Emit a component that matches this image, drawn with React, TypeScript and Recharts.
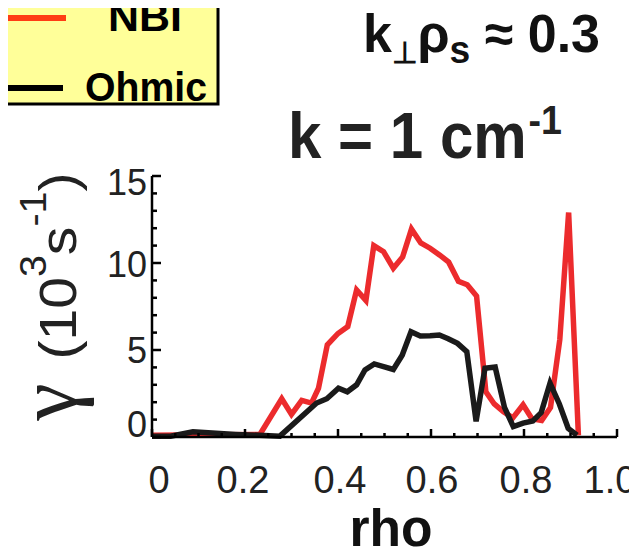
import React from 'react';
import { LineChart, Line, XAxis, YAxis, Legend } from 'recharts';

// growth rate profiles, gamma in 10^3 s^-1 against normalised radius
const NBI_RHO = [0, 0.232, 0.279, 0.3, 0.322, 0.343, 0.358, 0.377, 0.4, 0.421, 0.44, 0.46, 0.477, 0.498, 0.519, 0.539, 0.558, 0.578, 0.598, 0.619, 0.638, 0.659, 0.678, 0.698, 0.718, 0.736, 0.756, 0.776, 0.798, 0.817, 0.838, 0.857, 0.877, 0.896, 0.917];
const NBI_GAMMA = [0.1, 0.15, 2.2, 1.3, 2.1, 1.95, 2.8, 5.3, 5.95, 6.35, 8.45, 7.85, 11.0, 10.65, 9.7, 10.35, 11.95, 11.15, 10.85, 10.45, 10.05, 8.95, 8.75, 8.1, 2.6, 1.9, 1.45, 1.1, 1.85, 1.05, 0.95, 1.7, 5.6, 12.9, 0.1];

const OHMIC_RHO = [0, 0.04, 0.088, 0.18, 0.275, 0.354, 0.376, 0.401, 0.42, 0.44, 0.458, 0.478, 0.498, 0.519, 0.538, 0.557, 0.577, 0.598, 0.618, 0.637, 0.657, 0.677, 0.697, 0.716, 0.738, 0.758, 0.777, 0.798, 0.819, 0.837, 0.856, 0.876, 0.895, 0.914];
const OHMIC_GAMMA = [0.05, 0.05, 0.3, 0.15, 0.05, 1.95, 2.2, 2.8, 2.6, 3.0, 3.85, 4.2, 4.05, 3.88, 4.7, 6.05, 5.8, 5.82, 5.86, 5.65, 5.38, 4.9, 0.9, 3.95, 4.02, 1.7, 0.6, 0.8, 0.92, 1.4, 3.1, 1.9, 0.5, 0.1];

const X_TICKS = [0, 0.05, 0.1, 0.15, 0.2, 0.25, 0.3, 0.35, 0.4, 0.45, 0.5, 0.55, 0.6, 0.65, 0.7, 0.75, 0.8, 0.85, 0.9, 0.95, 1];
const X_MAJOR = [0, 0.2, 0.4, 0.6, 0.8, 1];
const X_LABELS = ['0', '0.2', '0.4', '0.6', '0.8', '1.0'];

const Y_TICKS = [0, 1, 2, 3, 4, 5, 6, 7, 8, 9, 10, 11, 12, 13, 14, 15];
const Y_MAJOR = [0, 5, 10, 15];
const Y_LABELS = ['0', '5', '10', '15'];

const NBI_COLOR = '#ec2b2d';
const OHMIC_COLOR = '#1a1a1a';
const LEGEND_COLORS: Record<string, string> = { NBI: '#ff3d14', Ohmic: '#000' };

const FONT = '"Liberation Sans", Arial, Helvetica, sans-serif';
const SERIF = '"Liberation Serif", "DejaVu Serif", serif';
const FRAME = { stroke: '#000', strokeWidth: 2.5 };

const nbiData = NBI_RHO.map((rho, i) => ({ rho, gamma: NBI_GAMMA[i] }));
const ohmicData = OHMIC_RHO.map((rho, i) => ({ rho, gamma: OHMIC_GAMMA[i] }));

const majorIndex = (list: number[], v: number) => list.findIndex((m) => Math.abs(m - v) < 1e-6);

// label nudges so the end labels stay inside the frame
const X_LABEL_DX = [7, -2, 2, 1, 2, -7];
const Y_LABEL_DY = [0, 13, 14, 19];

function BottomTick(props: any) {
  const { x, y, payload } = props;
  const i = majorIndex(X_MAJOR, payload.value);
  return (
    <g>
      <line x1={x} x2={x} y1={y} y2={y - (i >= 0 ? 8 : 4)} stroke="#000" strokeWidth={2.5} />
      {i >= 0 && (
        <text x={x + X_LABEL_DX[i]} y={y + 56} textAnchor="middle" fontFamily={FONT} fontSize={38} fill="#222">
          {X_LABELS[i]}
        </text>
      )}
    </g>
  );
}

function TopTick(props: any) {
  const { x, y, payload } = props;
  const major = majorIndex(X_MAJOR, payload.value) >= 0;
  return <line x1={x} x2={x} y1={y} y2={y + (major ? 8 : 4)} stroke="#000" strokeWidth={2.5} />;
}

function LeftTick(props: any) {
  const { x, y, payload } = props;
  const i = majorIndex(Y_MAJOR, payload.value);
  return (
    <g>
      <line x1={x} x2={x + (i >= 0 ? 9 : 5)} y1={y} y2={y} stroke="#000" strokeWidth={2.5} />
      {i >= 0 && (
        <text x={x - 5} y={y + Y_LABEL_DY[i]} textAnchor="end" fontFamily={FONT} fontSize={36} fill="#222">
          {Y_LABELS[i]}
        </text>
      )}
    </g>
  );
}

function RightTick(props: any) {
  const { x, y, payload } = props;
  const major = majorIndex(Y_MAJOR, payload.value) >= 0;
  return <line x1={x} x2={x - (major ? 9 : 5)} y1={y} y2={y} stroke="#000" strokeWidth={2.5} />;
}

function LegendBox(props: any) {
  const items = props.payload || [];
  return (
    <svg width={222} height={112} style={{ display: 'block', overflow: 'visible' }}>
      <rect x={-3} y={-3} width={221} height={107} fill="#ffff99" stroke="#000" strokeWidth={3} />
      {items.map((item: any, i: number) => {
        const cy = i === 0 ? 18 : 88;
        return (
          <g key={item.value}>
            <line x1={0} x2={i === 0 ? 66 : 63} y1={cy} y2={cy} stroke={LEGEND_COLORS[item.value] || item.color} strokeWidth={6} />
            <text
              x={i === 0 ? 108 : 85}
              y={cy + 13}
              fontFamily={FONT}
              fontWeight="bold"
              fontSize={41}
              fill="#000"
              textLength={i === 0 ? 74 : 122}
              lengthAdjust="spacingAndGlyphs"
            >
              {item.value}
            </text>
          </g>
        );
      })}
    </svg>
  );
}

export default function App() {
  return (
    <div style={{ position: 'relative', width: 637, height: 555, margin: -8, background: '#fff' }}>
      <LineChart width={637} height={555} margin={{ top: 176, right: 20, bottom: 0, left: 0 }}>
        <XAxis
          dataKey="rho"
          type="number"
          domain={[0, 1]}
          ticks={X_TICKS}
          interval={0}
          height={118}
          tickSize={0}
          tickMargin={0}
          tickLine={false}
          axisLine={FRAME}
          tick={<BottomTick />}
        />
        <XAxis
          xAxisId="top"
          orientation="top"
          dataKey="rho"
          type="number"
          domain={[0, 1]}
          ticks={X_TICKS}
          interval={0}
          height={0}
          tickSize={0}
          tickMargin={0}
          tickLine={false}
          axisLine={FRAME}
          tick={<TopTick />}
        />
        <YAxis
          type="number"
          domain={[0, 15]}
          ticks={Y_TICKS}
          interval={0}
          width={152}
          tickSize={0}
          tickMargin={0}
          tickLine={false}
          axisLine={FRAME}
          tick={<LeftTick />}
        />
        <YAxis
          yAxisId="right"
          orientation="right"
          type="number"
          domain={[0, 15]}
          ticks={Y_TICKS}
          interval={0}
          width={0}
          tickSize={0}
          tickMargin={0}
          tickLine={false}
          axisLine={FRAME}
          tick={<RightTick />}
        />
        <Legend
          layout="vertical"
          align="center"
          verticalAlign="middle"
          wrapperStyle={{ left: 0, top: 0, width: 222, height: 112 }}
          content={<LegendBox />}
        />
        <Line data={nbiData} dataKey="gamma" name="NBI" type="linear" stroke={NBI_COLOR} strokeWidth={5.5} dot={false} activeDot={false} isAnimationActive={false} />
        <Line data={ohmicData} dataKey="gamma" name="Ohmic" type="linear" stroke={OHMIC_COLOR} strokeWidth={5.5} dot={false} activeDot={false} isAnimationActive={false} />

        <text x={363} y={52} fontFamily={FONT} fontWeight="bold" fontSize={53} fill="#111" textLength={237} lengthAdjust="spacingAndGlyphs">
          k<tspan fontSize={30} dy={11}>⊥</tspan>
          <tspan dy={-11}>ρ</tspan>
          <tspan fontSize={38} dy={11}>s</tspan>
          <tspan dy={-11}> ≈ 0.3</tspan>
        </text>
        <text x={288} y={158} fontFamily={FONT} fontWeight="bold" fontSize={64} fill="#222" textLength={274} lengthAdjust="spacingAndGlyphs">
          k = 1 cm<tspan fontSize={40} dx={2} dy={-24}>-1</tspan>
        </text>
        <text transform="translate(76, 402) rotate(-90)" textAnchor="middle" fontFamily={SERIF} fontSize={84} fill="#222">
          γ
        </text>
        <text transform="translate(76, 266) rotate(-90)" textAnchor="middle" fontFamily={FONT} fontSize={52} fill="#222" textLength={187} lengthAdjust="spacingAndGlyphs">
          (10<tspan fontSize={36} dy={-30}>3</tspan>
          <tspan dy={30}>s</tspan>
          <tspan fontSize={36} dy={-30}>-1</tspan>
          <tspan dy={30}>)</tspan>
        </text>
        <text x={391} y={546} textAnchor="middle" fontFamily={FONT} fontWeight="bold" fontSize={51} fill="#111" textLength={83} lengthAdjust="spacingAndGlyphs">
          rho
        </text>
      </LineChart>
    </div>
  );
}
